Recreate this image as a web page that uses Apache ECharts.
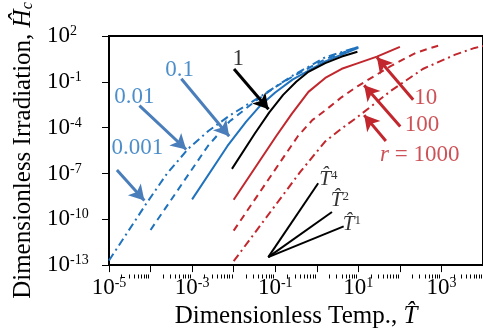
<!DOCTYPE html>
<html>
<head>
<meta charset="utf-8">
<script src="https://cdn.jsdelivr.net/npm/echarts@6/dist/echarts.min.js"></script>
<style>
html, body { margin: 0; padding: 0; background: #fff; }
#chart { width: 483px; height: 334px; }
</style>
</head>
<body>
<div id="chart"></div>
<script>
// curves, [T, H]
const r0001 = [[1e-5, 2.0e-13], [8.3e-5, 1.3e-9], [2.5e-4, 1e-7], [8.1e-4, 4.2e-6], [2.5e-3, 6.3e-5], [8.3e-3, 6.6e-4], [0.042, 0.01], [0.26, 0.25], [1.6, 4.0], [10, 19.5]];
const r001 = [[1e-4, 2.0e-11], [2.4e-3, 6.3e-6], [7.9e-3, 2.5e-4], [0.030, 4.4e-3], [0.1, 0.045], [0.26, 0.22], [1.6, 3.0], [10, 19.5]];
const r01 = [[1e-3, 2.0e-9], [7.1e-3, 6.3e-6], [0.02, 2.5e-4], [0.042, 2.5e-3], [0.1, 0.02], [0.26, 0.14], [1.6, 2.2], [10, 17]];
const r1 = [[0.0091, 2.0e-7], [0.032, 4e-5], [0.072, 1e-3], [0.155, 0.014], [0.32, 0.1], [0.63, 0.45], [1.6, 1.66], [4.0, 4.5], [9.5, 9.3]];
const r10 = [[0.01, 1.9e-9], [0.105, 2.75e-5], [0.25, 7.9e-4], [0.63, 0.022], [1.6, 0.18], [4.0, 0.71], [9.5, 1.6], [28, 4.5], [100, 19.5]];
const r100 = [[0.01, 1.8e-11], [0.35, 2.75e-5], [0.79, 3.2e-4], [1.6, 1.35e-3], [4.0, 0.01], [9.5, 0.051], [25, 0.25], [60, 1.07], [245, 8.1], [950, 26]];
const r1000 = [[0.01, 1.8e-13], [0.4, 1.26e-7], [1.6, 1.26e-5], [4.0, 8.9e-5], [9.5, 4.9e-4], [60, 0.025], [355, 0.69], [2140, 6.0], [6300, 16.6], [1e4, 22]];

// slope guides T^4, T^2, T^1
const guideOrigin = [0.068, 3.3e-13];
const guideEnds = [[1.08, 2.3e-8], [2.32, 3.0e-10], [4.44, 3.4e-11]];
const guideLabels = [['4', [1.9, 4.2e-8]], ['2', [3.6, 1.7e-9]], ['1', [7.0, 4.6e-11]]];

// annotation labels and arrows (tail -> head)
const blueLabels = [['0.1', [5.0e-4, 0.6]], ['0.01', [4.1e-5, 0.0105]], ['0.001', [4.8e-5, 4.9e-6]]];
const blueArrows = [[[5.5e-4, 0.16], [7.8e-3, 2.75e-5]], [[5.4e-5, 2.8e-3], [7.2e-4, 3.7e-6]], [[1.55e-5, 1.7e-7], [7.1e-5, 1.7e-9]]];
const blackLabels = [['1', [0.0129, 2.95]]];
const blackArrows = [[[0.0102, 0.69], [0.069, 1.6e-3]]];
const redLabels = [['10', [417, 9.1e-3]], ['100', [339, 1.6e-4]], ['{i|r} = 1000', [302, 1.55e-6]]];
const redArrows = [[[209, 6.8e-3], [28, 4.0]], [[102, 1.17e-4], [13.8, 0.059]], [[46, 1.35e-5], [13.8, 6.6e-4]]];

// axis ticks
const xMajor = [1e-5, 1e-4, 1e-3, 1e-2, 1e-1, 1, 10, 100, 1e3, 1e4];
const xLabelVals = [1e-5, 1e-3, 1e-1, 10, 1e3];
const yTicks = [1e-13, 1e-10, 1e-7, 1e-4, 1e-1, 100];

const xMinor = [];
for (let k = -5; k < 4; k++) {
  for (let m = 2; m < 10; m++) xMinor.push(m * Math.pow(10, k));
}

const FONT = 'Liberation Serif';
const BLUE = '#1f72bd';
const BLUE_ARROW = '#4a7ebb';
const RED = '#c1272d';

const powRich = {
  b: { fontFamily: FONT, fontSize: 23, color: '#000' },
  s: { fontFamily: FONT, fontSize: 14, color: '#000', verticalAlign: 'top' }
};
function powLabel(v) {
  return '{b|10}{s|' + Math.round(Math.log10(v)) + '}';
}

function curve(name, data, color, type) {
  return {
    name: name, type: 'line', data: data, symbol: 'none',
    lineStyle: { color: color, width: 2, type: type, join: 'round' }, silent: true, z: 3
  };
}

function textSeries(list, color) {
  return {
    type: 'scatter', symbolSize: 1, silent: true, z: 5,
    itemStyle: { color: 'rgba(0,0,0,0)' },
    data: list.map(d => ({
      value: d[1],
      label: {
        show: true, position: 'inside', formatter: d[0], color: color,
        fontFamily: FONT, fontSize: 23,
        rich: { i: { fontFamily: FONT, fontStyle: 'italic', fontSize: 23, color: color } }
      }
    }))
  };
}

function arrowSeries(list, color) {
  return {
    type: 'line', data: [], silent: true, z: 6,
    markLine: {
      silent: true, symbol: ['none', 'arrow'], symbolSize: [13, 15], animation: false,
      label: { show: false },
      lineStyle: { color: color, width: 3, type: 'solid' },
      data: list.map(a => [{ coord: a[0] }, { coord: a[1] }])
    }
  };
}

const series = [
  curve('0.001', r0001, BLUE, [8, 4, 2, 4]),
  curve('0.01', r001, BLUE, [7, 5]),
  curve('0.1', r01, BLUE, 'solid'),
  curve('1', r1, '#000', 'solid'),
  curve('10', r10, RED, 'solid'),
  curve('100', r100, RED, [7, 5]),
  curve('1000', r1000, RED, [8, 4, 2, 4])
];
guideEnds.forEach(e => {
  series.push({
    type: 'line', data: [guideOrigin, e], symbol: 'none', silent: true,
    lineStyle: { color: '#000', width: 2 }
  });
});
series.push({
  type: 'scatter', symbolSize: 1, silent: true, itemStyle: { color: 'rgba(0,0,0,0)' },
  data: guideLabels.map(g => ({
    value: g[1],
    label: {
      show: true, position: 'inside', formatter: '{t|T\u0302}{s|' + g[0] + '}',
      rich: {
        t: { fontFamily: FONT, fontStyle: 'italic', fontSize: 21, color: '#000' },
        s: { fontFamily: FONT, fontSize: 13, color: '#000', verticalAlign: 'top' }
      }
    }
  }))
});
series.push(textSeries(blueLabels, BLUE));
series.push(textSeries(blackLabels, '#000'));
series.push(textSeries(redLabels, RED));
series.push(arrowSeries(blueArrows, BLUE_ARROW));
series.push(arrowSeries(blackArrows, '#000'));
series.push(arrowSeries(redArrows, RED));

const chart = echarts.init(document.getElementById('chart'));
chart.setOption({
  animation: false,
  grid: [
    { left: 109, top: 36, width: 382, height: 238.5, show: true, borderColor: '#000', borderWidth: 2, backgroundColor: 'transparent' },
    { left: 109, top: 36, width: 382, height: 238.5 }
  ],
  xAxis: [{
    type: 'log', logBase: 10, min: 1e-5, max: 1e4, gridIndex: 0,
    axisLine: { lineStyle: { color: '#000', width: 2 } },
    axisTick: { customValues: xMajor, length: 7, lineStyle: { color: '#000', width: 1 } },
    axisLabel: { customValues: xLabelVals, formatter: powLabel, rich: powRich, margin: 11 },
    splitLine: { show: false },
    name: 'Dimensionless Temp., {t|T\u0302}', nameLocation: 'middle', nameGap: 37,
    nameTextStyle: {
      fontFamily: FONT, fontSize: 25, color: '#000',
      rich: { t: { fontFamily: FONT, fontStyle: 'italic', fontSize: 25, color: '#000' } }
    }
  }, {
    type: 'log', logBase: 10, min: 1e-5, max: 1e4, gridIndex: 1, position: 'bottom',
    axisLine: { show: false },
    axisTick: { customValues: xMinor, length: 4, lineStyle: { color: '#000', width: 1 } },
    axisLabel: { show: false },
    splitLine: { show: false }
  }],
  yAxis: [{
    type: 'log', logBase: 10, min: 1e-13, max: 100, gridIndex: 0,
    axisLine: { lineStyle: { color: '#000', width: 2 } },
    axisTick: { customValues: yTicks, length: 7, lineStyle: { color: '#000', width: 1 } },
    axisLabel: { customValues: yTicks, formatter: powLabel, rich: powRich, align: 'left', margin: 62 },
    splitLine: { show: false },
    name: 'Dimensionless Irradiation, {h|H\u0302}{c|c}', nameLocation: 'middle', nameGap: 64,
    nameTextStyle: {
      fontFamily: FONT, fontSize: 25, color: '#000',
      rich: {
        h: { fontFamily: FONT, fontStyle: 'italic', fontSize: 25, color: '#000' },
        c: { fontFamily: FONT, fontStyle: 'italic', fontSize: 16, color: '#000', verticalAlign: 'bottom' }
      }
    }
  }, {
    type: 'log', min: 1e-13, max: 100, gridIndex: 1, show: false
  }],
  series: series
});
</script>
</body>
</html>
